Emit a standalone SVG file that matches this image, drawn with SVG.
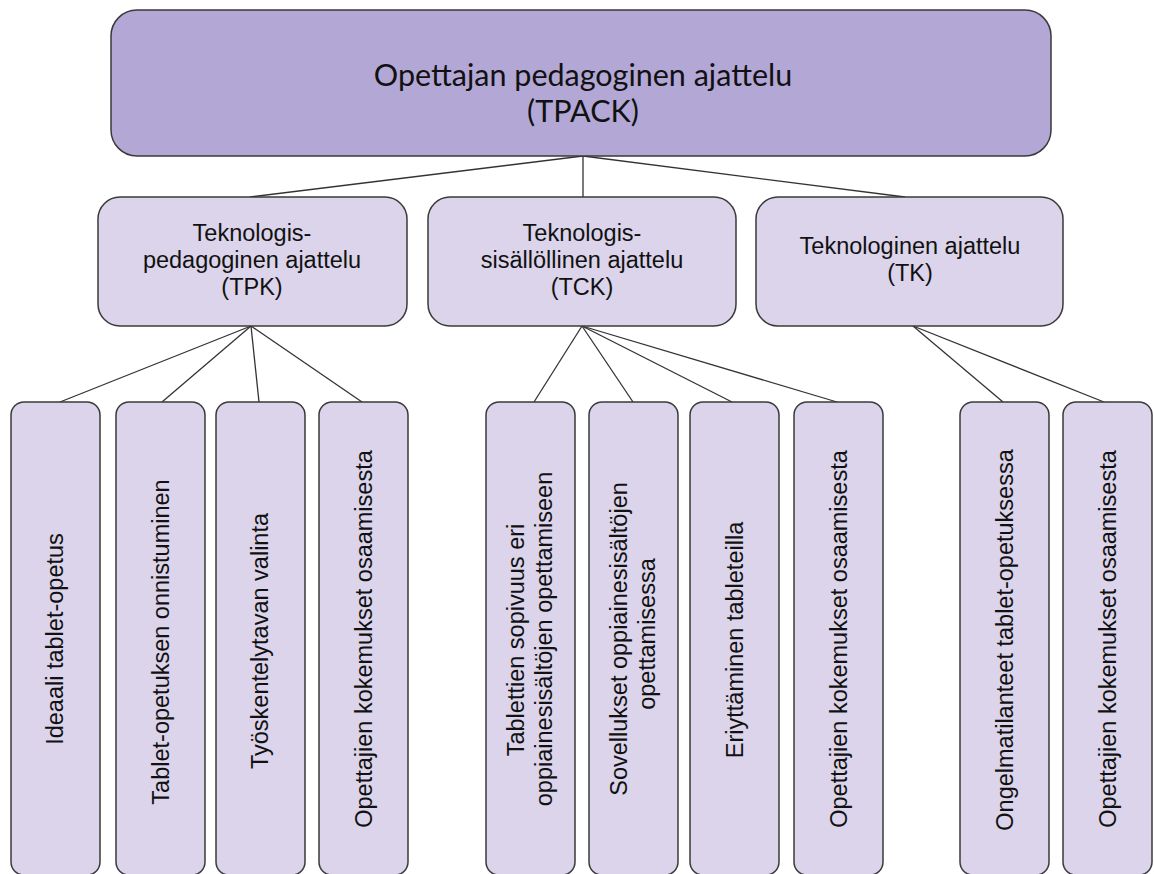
<svg xmlns="http://www.w3.org/2000/svg" width="1154" height="874" viewBox="0 0 1154 874">
  <style>
    .top { fill: #b3a7d6; stroke: #3a3a3a; stroke-width: 1.5; }
    .box { fill: #dbd4ea; stroke: #3a3a3a; stroke-width: 1.5; }
    .title { font-family: Lato, "Open Sans", sans-serif; font-size: 30.5px; fill: #111; text-anchor: middle; }
    .lbl { font-family: "Liberation Sans", Arial, sans-serif; font-size: 23.5px; fill: #111; text-anchor: middle; }
    .conn line { stroke: #333; stroke-width: 1.3; }
  </style>
  <rect width="1154" height="874" fill="#ffffff"/>

  <!-- connectors -->
  <g class="conn" id="connectors">
    <line x1="583" y1="156" x2="250" y2="197"/>
    <line x1="583" y1="156" x2="583" y2="197"/>
    <line x1="583" y1="156" x2="905" y2="197"/>
    <line x1="251" y1="326" x2="60" y2="402"/>
    <line x1="251" y1="326" x2="162" y2="402"/>
    <line x1="251" y1="326" x2="259" y2="402"/>
    <line x1="251" y1="326" x2="362" y2="402"/>
    <line x1="582" y1="326" x2="534" y2="402"/>
    <line x1="582" y1="326" x2="633" y2="402"/>
    <line x1="582" y1="326" x2="732" y2="402"/>
    <line x1="582" y1="326" x2="837" y2="402"/>
    <line x1="913" y1="326" x2="1003" y2="402"/>
    <line x1="913" y1="326" x2="1104" y2="402"/>
  </g>

  <!-- root -->
  <g id="tpack">
    <rect class="top" x="111" y="10" width="940" height="146" rx="26"/>
    <text class="title" x="583" y="86">Opettajan pedagoginen ajattelu</text>
    <text class="title" x="583" y="122">(TPACK)</text>
  </g>

  <!-- second level -->
  <g id="tpk">
    <rect class="box" x="98" y="197" width="309" height="129" rx="22"/>
    <text class="lbl" x="252" y="241">Teknologis-</text>
    <text class="lbl" x="252" y="268">pedagoginen ajattelu</text>
    <text class="lbl" x="252" y="295">(TPK)</text>
  </g>
  <g id="tck">
    <rect class="box" x="428" y="197" width="308" height="129" rx="22"/>
    <text class="lbl" x="582" y="241">Teknologis-</text>
    <text class="lbl" x="582" y="268">sisällöllinen ajattelu</text>
    <text class="lbl" x="582" y="295">(TCK)</text>
  </g>
  <g id="tk">
    <rect class="box" x="756" y="197" width="307" height="129" rx="22"/>
    <text class="lbl" x="910" y="254">Teknologinen ajattelu</text>
    <text class="lbl" x="910" y="281">(TK)</text>
  </g>

  <!-- third level -->
  <g id="tpk-1">
    <rect class="box" x="11" y="402" width="89" height="473" rx="13"/>
    <text class="lbl" transform="translate(63,639) rotate(-90)">Ideaali tablet-opetus</text>
  </g>
  <g id="tpk-2">
    <rect class="box" x="116" y="402" width="89" height="473" rx="13"/>
    <text class="lbl" transform="translate(169,642) rotate(-90)">Tablet-opetuksen onnistuminen</text>
  </g>
  <g id="tpk-3">
    <rect class="box" x="216" y="402" width="89" height="473" rx="13"/>
    <text class="lbl" transform="translate(268,641) rotate(-90)">Työskentelytavan valinta</text>
  </g>
  <g id="tpk-4">
    <rect class="box" x="319" y="402" width="89" height="473" rx="13"/>
    <text class="lbl" transform="translate(372,639) rotate(-90)">Opettajien kokemukset osaamisesta</text>
  </g>

  <g id="tck-1">
    <rect class="box" x="486" y="402" width="89" height="473" rx="13"/>
    <text class="lbl" transform="translate(524,640) rotate(-90)">Tablettien sopivuus eri</text>
    <text class="lbl" transform="translate(552,639) rotate(-90)">oppiainesisältöjen opettamiseen</text>
  </g>
  <g id="tck-2">
    <rect class="box" x="589" y="402" width="89" height="473" rx="13"/>
    <text class="lbl" transform="translate(627,639) rotate(-90)">Sovellukset oppiainesisältöjen</text>
    <text class="lbl" transform="translate(655,634) rotate(-90)">opettamisessa</text>
  </g>
  <g id="tck-3">
    <rect class="box" x="690" y="402" width="89" height="473" rx="13"/>
    <text class="lbl" transform="translate(743,640) rotate(-90)">Eriyttäminen tableteilla</text>
  </g>
  <g id="tck-4">
    <rect class="box" x="794" y="402" width="89" height="473" rx="13"/>
    <text class="lbl" transform="translate(847,639) rotate(-90)">Opettajien kokemukset osaamisesta</text>
  </g>

  <g id="tk-1">
    <rect class="box" x="960" y="402" width="89" height="473" rx="13"/>
    <text class="lbl" transform="translate(1013,640) rotate(-90)">Ongelmatilanteet tablet-opetuksessa</text>
  </g>
  <g id="tk-2">
    <rect class="box" x="1063" y="402" width="89" height="473" rx="13"/>
    <text class="lbl" transform="translate(1116,639) rotate(-90)">Opettajien kokemukset osaamisesta</text>
  </g>
</svg>
